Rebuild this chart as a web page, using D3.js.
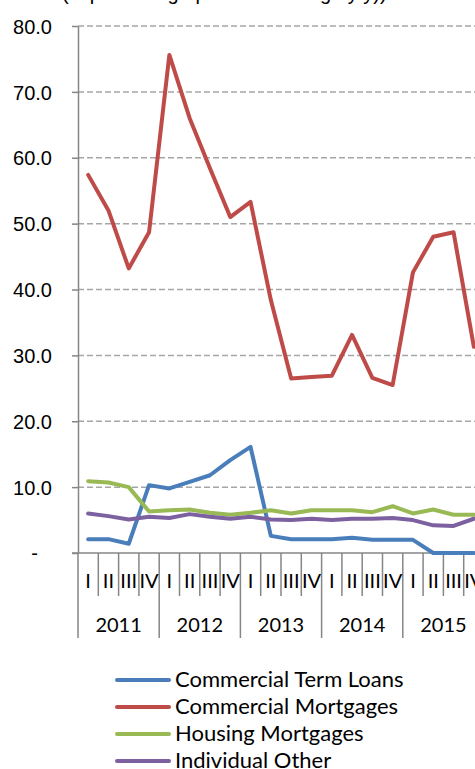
<!DOCTYPE html>
<html>
<head>
<meta charset="utf-8">
<script src="https://cdn.jsdelivr.net/npm/d3@7"></script>
<style>
  body { margin: 0; background: #fff; }
  svg { display: block; }
  .cat { font-family: "Gill Sans", Lato, sans-serif; fill: #000; }
  .num { font-family: "Liberation Sans", Arial, sans-serif; fill: #000; }
</style>
</head>
<body>
<svg id="chart"></svg>
<script>
const width = 475;
const height = 769;

// quarters and years
const years = ["2011", "2012", "2013", "2014", "2015"];
const quarters = ["I", "II", "III", "IV"];
const yTicks = [0, 10, 20, 30, 40, 50, 60, 70, 80];

// series values, one per quarter 2011 I .. 2015 IV
const termLoans = [2.1, 2.1, 1.4, 10.3, 9.8, 10.8, 11.8, 14.1, 16.1, 2.6, 2.1, 2.1, 2.1, 2.3, 2.0, 2.0, 2.0, 0, 0, 0];
const commMortgages = [57.4, 52.0, 43.2, 48.7, 75.6, 66.0, 58.4, 51.0, 53.3, 38.4, 26.5, 26.7, 26.9, 33.1, 26.6, 25.5, 42.6, 48.0, 48.7, 31.3];
const housingMortgages = [10.9, 10.7, 10.0, 6.3, 6.5, 6.6, 6.1, 5.8, 6.1, 6.5, 6.0, 6.5, 6.5, 6.5, 6.2, 7.1, 6.0, 6.6, 5.8, 5.8];
const individualOther = [6.0, 5.6, 5.1, 5.5, 5.3, 5.9, 5.5, 5.2, 5.5, 5.1, 5.0, 5.2, 5.0, 5.2, 5.2, 5.3, 5.0, 4.2, 4.1, 5.2];

const seriesNames = ["Commercial Term Loans", "Commercial Mortgages", "Housing Mortgages", "Individual Other"];
const seriesColors = ["#4A7EBB", "#BE4B48", "#98B954", "#7D60A0"];
const seriesValues = [termLoans, commMortgages, housingMortgages, individualOther];

const svg = d3.select("svg#chart")
  .attr("width", width)
  .attr("height", height);

const margin = { top: 26, left: 78, zero: 553 };
const qWidth = 20.3;

// category keys
const keys = [];
years.forEach(function(yr) {
  quarters.forEach(function(q) { keys.push(yr + "-" + q); });
});

const x = d3.scaleBand()
  .domain(keys)
  .range([margin.left, margin.left + keys.length * qWidth])
  .padding(0);

const y = d3.scaleLinear()
  .domain([0, 80])
  .range([margin.zero, margin.top]);

// title, cut off at the top edge (only descenders show)
svg.append("text")
  .attr("class", "num")
  .attr("x", 62)
  .attr("y", 0)
  .style("font-size", "20px")
  .text("(in percentage points of change y/y))");

// gridlines
svg.append("g")
  .selectAll("line")
  .data(yTicks.filter(d => d > 0))
  .enter()
  .append("line")
    .attr("x1", margin.left)
    .attr("x2", width)
    .attr("y1", d => y(d))
    .attr("y2", d => y(d))
    .style("stroke", "#A6A6A6")
    .style("stroke-width", 1.5)
    .style("stroke-dasharray", "6,3");

// y axis
const yAxis = svg.append("g")
  .attr("transform", "translate(" + margin.left + ",0)")
  .call(d3.axisLeft(y).tickValues(yTicks).tickSize(6).tickSizeOuter(0)
    .tickFormat(d => d === 0 ? "-" : d3.format(".1f")(d)));
yAxis.select(".domain").style("stroke", "#868686").style("stroke-width", 1.5);
yAxis.selectAll(".tick line").style("stroke", "#868686").style("stroke-width", 1.5);
yAxis.selectAll(".tick text")
  .attr("class", "num")
  .attr("x", -26)
  .attr("dy", "0.36em")
  .style("font-size", "20px");
yAxis.selectAll(".tick text").filter(d => d === 0)
  .attr("x", -40)
  .attr("dy", "0.3em");

// zero baseline
svg.append("line")
  .attr("x1", margin.left - 6)
  .attr("x2", width)
  .attr("y1", y(0))
  .attr("y2", y(0))
  .style("stroke", "#868686")
  .style("stroke-width", 1.5);

// x axis: quarter ticks and year separators
const xg = svg.append("g").attr("id", "xAxis");
xg.selectAll("line.q")
  .data(keys.concat(["end"]))
  .enter()
  .append("line")
    .attr("class", "q")
    .attr("x1", (d, i) => x.range()[0] + i * x.step())
    .attr("x2", (d, i) => x.range()[0] + i * x.step())
    .attr("y1", y(0))
    .attr("y2", (d, i) => i % 4 === 0 ? 638 : 596)
    .style("stroke", "#868686")
    .style("stroke-width", 1.5);

xg.selectAll("text.q")
  .data(keys)
  .enter()
  .append("text")
    .attr("class", "cat")
    .attr("x", d => x(d) + x.bandwidth() / 2)
    .attr("y", 588)
    .attr("text-anchor", "middle")
    .style("font-size", "20px")
    .text(d => d.split("-")[1]);

xg.selectAll("text.yr")
  .data(years)
  .enter()
  .append("text")
    .attr("class", "cat")
    .attr("x", d => x(d + "-I") + 2 * x.step())
    .attr("y", 632)
    .attr("text-anchor", "middle")
    .style("font-size", "20px")
    .text(d => d);

// lines
const line = d3.line()
  .x((d, i) => x(keys[i]) + x.bandwidth() / 2)
  .y(d => y(d));

svg.append("g").attr("id", "lines")
  .selectAll("path")
  .data(seriesValues)
  .enter()
  .append("path")
    .attr("d", d => line(d))
    .style("fill", "none")
    .style("stroke", (d, i) => seriesColors[i])
    .style("stroke-width", 4)
    .style("stroke-linejoin", "round")
    .style("stroke-linecap", "round");

// legend
const legend = svg.append("g").attr("id", "legend")
  .selectAll("g")
  .data(seriesNames)
  .enter()
  .append("g")
    .attr("transform", (d, i) => "translate(0," + (680 + i * 27) + ")");

legend.append("line")
  .attr("x1", 117)
  .attr("x2", 169)
  .style("stroke", (d, i) => seriesColors[i])
  .style("stroke-width", 4)
  .style("stroke-linecap", "round");

legend.append("text")
  .attr("class", "cat")
  .attr("x", 175)
  .attr("y", 7)
  .style("font-size", "22px")
  .text(d => d);
</script>
</body>
</html>
